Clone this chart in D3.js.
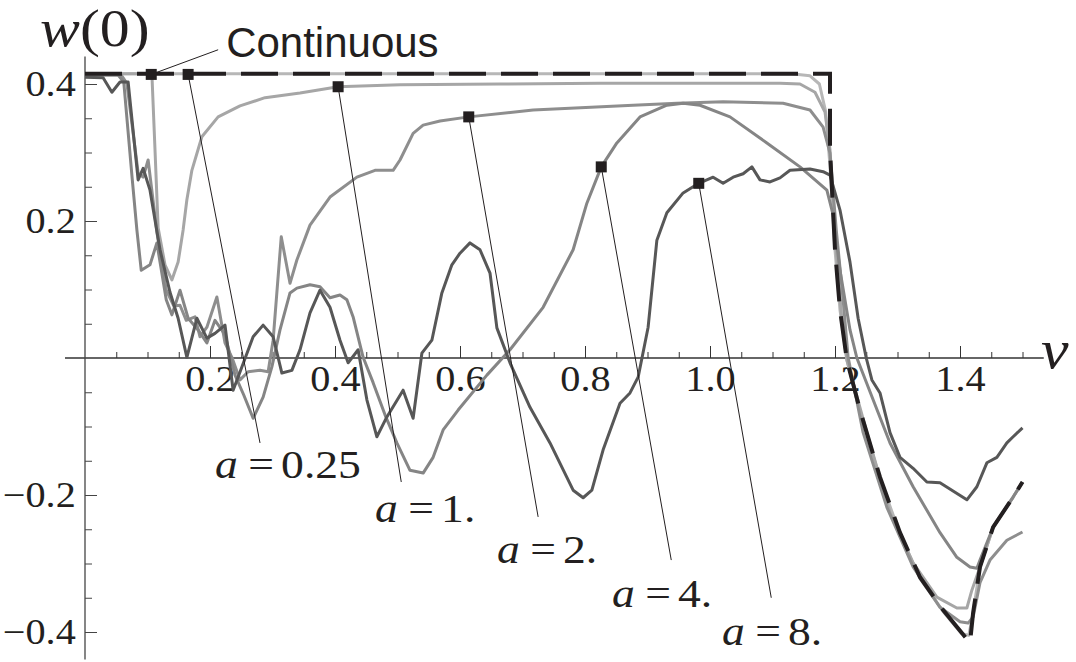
<!DOCTYPE html>
<html>
<head>
<meta charset="utf-8">
<title>w(0) against v</title>
<script src="https://d3js.org/d3.v7.min.js"></script>
<style>
  body { margin: 0; background: #fff; }
  svg { display: block; }
</style>
</head>
<body>
<svg id="chart"></svg>
<script>
// values, as [v, w(0)] pairs

var continuous = [[0,0.415],[1.192,0.415],[1.192,0.304],[1.2,0.158],[1.208,0.07],[1.219,-0.003],[1.24,-0.076],
  [1.272,-0.174],[1.304,-0.255],[1.336,-0.32],[1.373,-0.368],[1.416,-0.416],[1.421,-0.372],[1.432,-0.305],
  [1.453,-0.247],[1.485,-0.203],[1.5,-0.181]];

var a025 = [[0,0.415],[1.13,0.415],[1.16,0.412],[1.175,0.4],[1.185,0.36],[1.192,0.28],[1.2,0.158],[1.208,0.07],
  [1.219,-0.003],[1.24,-0.078],[1.272,-0.176],[1.304,-0.257],[1.336,-0.322],[1.373,-0.37],[1.402,-0.402],
  [1.414,-0.405],[1.421,-0.372],[1.432,-0.305],[1.453,-0.247],[1.485,-0.203],[1.5,-0.181]];

var a1 = [[0,0.415],[0.107,0.415],[0.112,0.304],[0.117,0.19],[0.128,0.136],[0.139,0.114],[0.149,0.14],
  [0.157,0.187],[0.163,0.231],[0.171,0.274],[0.187,0.323],[0.213,0.352],[0.248,0.368],[0.288,0.38],
  [0.344,0.387],[0.405,0.396],[0.504,0.399],[0.664,0.4],[0.824,0.401],[0.984,0.401],[1.112,0.401],
  [1.144,0.4],[1.168,0.388],[1.184,0.359],[1.192,0.304],[1.202,0.158],[1.211,0.055],[1.219,-0.003],
  [1.251,-0.109],[1.288,-0.226],[1.325,-0.299],[1.363,-0.349],[1.395,-0.365],[1.411,-0.365],[1.419,-0.339],
  [1.432,-0.305],[1.453,-0.247],[1.485,-0.203],[1.5,-0.181]];

var a2 = [[0,0.413],[0.058,0.413],[0.067,0.401],[0.085,0.27],[0.093,0.264],[0.101,0.289],[0.115,0.184],
  [0.13,0.099],[0.142,0.076],[0.152,0.077],[0.162,0.055],[0.176,0.06],[0.184,0.031],[0.195,0.045],
  [0.211,0.089],[0.224,0.022],[0.235,0.001],[0.248,-0.032],[0.261,-0.02],[0.28,-0.018],[0.293,-0.02],
  [0.301,0.026],[0.314,0.177],[0.328,0.109],[0.339,0.143],[0.36,0.194],[0.392,0.235],[0.435,0.264],
  [0.464,0.274],[0.493,0.274],[0.504,0.289],[0.525,0.328],[0.541,0.34],[0.568,0.346],[0.614,0.352],
  [0.717,0.362],[0.877,0.369],[0.947,0.372],[1.021,0.374],[1.117,0.372],[1.16,0.362],[1.181,0.337],
  [1.192,0.299],[1.202,0.187],[1.213,0.085],[1.221,0.001],[1.245,-0.109],[1.283,-0.218],[1.325,-0.305],
  [1.368,-0.364],[1.4,-0.385],[1.413,-0.387],[1.421,-0.378],[1.432,-0.328],[1.448,-0.295],[1.475,-0.266],
  [1.5,-0.254]];

var a4 = [[0,0.413],[0.053,0.413],[0.062,0.403],[0.075,0.267],[0.083,0.187],[0.09,0.128],[0.104,0.136],
  [0.115,0.168],[0.13,0.085],[0.139,0.063],[0.152,0.099],[0.165,0.058],[0.181,0.041],[0.195,0.022],
  [0.208,0.055],[0.224,0.034],[0.24,-0.025],[0.254,-0.054],[0.269,-0.088],[0.285,-0.057],[0.299,-0.013],
  [0.312,0.041],[0.328,0.095],[0.339,0.102],[0.36,0.107],[0.376,0.104],[0.392,0.088],[0.408,0.092],
  [0.419,0.085],[0.429,0.06],[0.445,0.001],[0.461,-0.036],[0.48,-0.083],[0.499,-0.124],[0.52,-0.164],
  [0.541,-0.168],[0.557,-0.145],[0.573,-0.105],[0.597,-0.076],[0.643,-0.025],[0.68,0.012],[0.733,0.074],
  [0.781,0.158],[0.803,0.226],[0.826,0.279],[0.851,0.314],[0.888,0.352],[0.931,0.369],[0.957,0.372],
  [0.984,0.369],[1.032,0.352],[1.091,0.314],[1.144,0.279],[1.187,0.245],[1.197,0.209],[1.208,0.128],
  [1.224,0.041],[1.235,0],[1.261,-0.061],[1.288,-0.124],[1.325,-0.188],[1.368,-0.255],[1.395,-0.291],
  [1.416,-0.305],[1.427,-0.307],[1.432,-0.295],[1.453,-0.247],[1.485,-0.203],[1.5,-0.181]];

var a8 = [[0,0.41],[0.029,0.409],[0.043,0.388],[0.056,0.403],[0.069,0.403],[0.085,0.26],[0.093,0.277],
  [0.104,0.245],[0.12,0.158],[0.136,0.096],[0.149,0.058],[0.163,0.001],[0.179,0.058],[0.195,0.029],
  [0.208,0.036],[0.224,0.048],[0.237,-0.047],[0.251,-0.013],[0.269,0.031],[0.285,0.048],[0.301,0.031],
  [0.315,-0.022],[0.331,-0.018],[0.344,0.012],[0.36,0.066],[0.376,0.099],[0.392,0.074],[0.408,0.026],
  [0.421,-0.007],[0.437,0.012],[0.451,-0.061],[0.467,-0.115],[0.483,-0.086],[0.509,-0.047],[0.525,-0.088],
  [0.539,0.007],[0.555,0.026],[0.571,0.095],[0.587,0.136],[0.6,0.153],[0.616,0.168],[0.632,0.158],
  [0.648,0.124],[0.659,0.044],[0.68,-0.007],[0.712,-0.072],[0.744,-0.124],[0.781,-0.193],[0.797,-0.204],
  [0.811,-0.193],[0.829,-0.134],[0.856,-0.066],[0.872,-0.051],[0.885,-0.028],[0.901,0.045],[0.915,0.172],
  [0.931,0.212],[0.957,0.241],[0.982,0.255],[1.005,0.264],[1.021,0.255],[1.037,0.264],[1.053,0.269],
  [1.067,0.279],[1.08,0.26],[1.096,0.257],[1.112,0.263],[1.128,0.274],[1.16,0.276],[1.181,0.272],
  [1.192,0.267],[1.208,0.216],[1.224,0.14],[1.237,0.058],[1.25,0],[1.259,-0.032],[1.272,-0.051],
  [1.288,-0.109],[1.304,-0.145],[1.325,-0.161],[1.347,-0.181],[1.368,-0.182],[1.411,-0.207],[1.427,-0.188],
  [1.443,-0.153],[1.459,-0.145],[1.475,-0.124],[1.485,-0.115],[1.5,-0.102]];

// annotations: marker on the curve, end of leader line, label position
var labelText = ["Continuous", "0.25", "1.", "2.", "4.", "8."];
var markerPts = [[0.106,0.414],[0.165,0.414],[0.405,0.396],[0.614,0.352],[0.826,0.279],[0.982,0.255]];
var leaderEnds = [[0.213,0.45],[0.28,-0.124],[0.506,-0.181],[0.725,-0.232],[0.938,-0.295],[1.098,-0.35]];
var labelAt = [[0.229,0.439],[0.208,-0.175],[0.464,-0.239],[0.659,-0.299],[0.843,-0.364],[1.019,-0.419]];

// ticks
var xMajor = [0.2, 0.4, 0.6, 0.8, 1.0, 1.2, 1.4];
var yMajor = [-0.4, -0.2, 0.2, 0.4];

var W = 1076, H = 662;
var ink = "#231f20";
var serif = "'Liberation Serif', 'Times New Roman', serif";
var stretch = 1.15;

var svg = d3.select("#chart").attr("width", W).attr("height", H);

var x = d3.scaleLinear().domain([0, 1.5]).range([85, 1022.5]);
var y = d3.scaleLinear().domain([-0.4, 0.4]).range([632, 84]);

var xMinor = x.ticks(30).filter(function(d) { return d > 0; });
var yMinor = y.ticks(16).filter(function(d) { return d != 0; });

// axis lines
svg.append("line")
    .attr("x1", x(-0.032)).attr("x2", x(1.534))
    .attr("y1", y(0)).attr("y2", y(0))
    .attr("stroke", "#333").attr("stroke-width", 1.3);
svg.append("line")
    .attr("x1", x(0)).attr("x2", x(0))
    .attr("y1", y(0.44)).attr("y2", y(-0.44))
    .attr("stroke", "#444").attr("stroke-width", 1.3);

// minor ticks (inward)
svg.append("g")
    .attr("transform", "translate(0," + y(0) + ")")
    .call(d3.axisBottom(x).tickValues(xMinor).tickSize(-6).tickFormat(""))
    .call(function(g) { g.select(".domain").remove(); })
    .attr("color", "#333");
svg.append("g")
    .attr("transform", "translate(" + x(0) + ",0)")
    .call(d3.axisLeft(y).tickValues(yMinor).tickSize(-7).tickFormat(""))
    .call(function(g) { g.select(".domain").remove(); })
    .attr("color", "#444");

// major ticks with labels
var gx = svg.append("g")
    .attr("transform", "translate(0," + y(0) + ")")
    .call(d3.axisBottom(x).tickValues(xMajor).tickSize(-12).tickPadding(8).tickFormat(d3.format(".1f")))
    .call(function(g) { g.select(".domain").remove(); })
    .attr("color", "#333");
gx.selectAll("text")
    .attr("fill", ink)
    .attr("font-family", serif)
    .attr("font-size", 35)
    .attr("transform", "scale(" + stretch + ",1)");

var gy = svg.append("g")
    .attr("transform", "translate(" + x(0) + ",0)")
    .call(d3.axisLeft(y).tickValues(yMajor).tickSize(-12).tickPadding(8).tickFormat(d3.format(".1f")))
    .call(function(g) { g.select(".domain").remove(); })
    .attr("color", "#444");
gy.selectAll("text")
    .attr("fill", ink)
    .attr("font-family", serif)
    .attr("font-size", 35)
    .attr("transform", "scale(" + stretch + ",1)");

// axis titles
var wt = svg.append("text")
    .attr("transform", "translate(40,46) scale(" + stretch + ",1)")
    .attr("font-family", serif).attr("font-size", 52).attr("fill", ink);
wt.append("tspan").attr("font-style", "italic").text("w");
wt.append("tspan").text("(0)");

svg.append("text")
    .attr("transform", "translate(1041,368) scale(" + stretch + ",1)")
    .attr("font-family", serif).attr("font-size", 54).attr("font-style", "italic")
    .attr("fill", ink).text("v");

// curves
var line = d3.line()
    .x(function(d) { return x(d[0]); })
    .y(function(d) { return y(d[1]); });

var curves = [
  { pts: a025, color: "#b7b7b7" },
  { pts: a1,   color: "#a6a6a6" },
  { pts: a2,   color: "#8e8e8e" },
  { pts: a4,   color: "#858585" },
  { pts: a8,   color: "#575757" }
];

svg.selectAll("path.curve")
    .data(curves)
  .enter().append("path")
    .attr("class", "curve")
    .attr("d", function(d) { return line(d.pts); })
    .attr("fill", "none")
    .attr("stroke", function(d) { return d.color; })
    .attr("stroke-width", 3)
    .attr("stroke-linejoin", "round");

svg.append("path")
    .attr("d", line(continuous))
    .attr("fill", "none")
    .attr("stroke", ink)
    .attr("stroke-width", 4)
    .attr("stroke-dasharray", "37,15");

// leader lines
svg.selectAll("line.leader")
    .data(markerPts)
  .enter().append("line")
    .attr("class", "leader")
    .attr("x1", function(d) { return x(d[0]); })
    .attr("y1", function(d) { return y(d[1]); })
    .attr("x2", function(d, i) { return x(leaderEnds[i][0]); })
    .attr("y2", function(d, i) { return y(leaderEnds[i][1]); })
    .attr("stroke", ink)
    .attr("stroke-width", 1);

// markers
svg.selectAll("rect.marker")
    .data(markerPts)
  .enter().append("rect")
    .attr("class", "marker")
    .attr("x", function(d) { return x(d[0]) - 5.5; })
    .attr("y", function(d) { return y(d[1]) - 5.5; })
    .attr("width", 11).attr("height", 11)
    .attr("fill", ink);

// labels
svg.append("text")
    .attr("x", x(labelAt[0][0]) - 2)
    .attr("y", y(labelAt[0][1]))
    .attr("font-family", "'Liberation Sans', Arial, sans-serif")
    .attr("font-size", 42)
    .attr("fill", ink)
    .text(labelText[0]);

labelText.slice(1).forEach(function(t, k) {
  var p = labelAt[k + 1];
  var tx = svg.append("text")
      .attr("transform", "translate(" + x(p[0]) + "," + y(p[1]) + ") scale(" + 1.17 + ",1)")
      .attr("font-family", serif).attr("font-size", 39).attr("fill", ink);
  tx.append("tspan").attr("font-style", "italic").text("a");
  tx.append("tspan").attr("dx", 9).text("=");
  tx.append("tspan").attr("dx", 6).text(t);
});
</script>
</body>
</html>
